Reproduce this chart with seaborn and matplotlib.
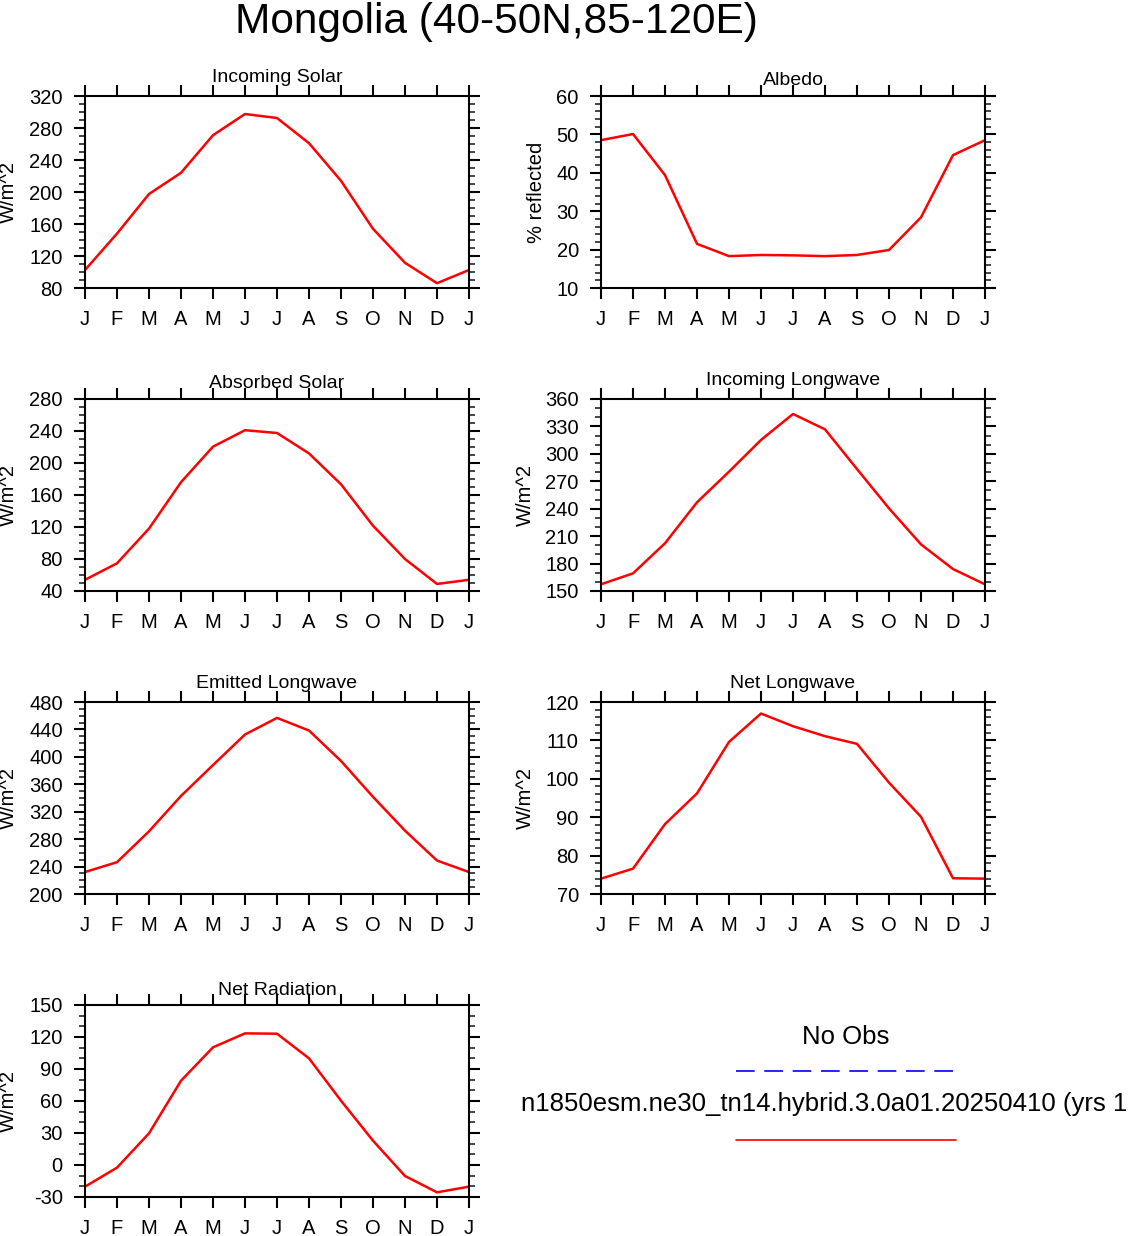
import numpy as np
import pandas as pd
import matplotlib
matplotlib.use("Agg")
import matplotlib.pyplot as plt
from matplotlib.lines import Line2D
from matplotlib.ticker import MultipleLocator
import seaborn as sns

# ---------------- data ----------------
month_labels = ["J", "F", "M", "A", "M", "J", "J", "A", "S", "O", "N", "D", "J"]

incoming_solar = [102.5, 148, 197.5, 224, 271, 297.5, 292.5, 261, 214, 154, 111.5, 86, 102.5]
albedo = [48.5, 50.1, 39.4, 21.5, 18.3, 18.6, 18.5, 18.3, 18.6, 19.9, 28.4, 44.6, 48.5]
absorbed_solar = [54, 74.6, 118, 176, 220.4, 241, 237.5, 212, 173.4, 121.6, 80, 48.8, 54]
incoming_lw = [157.3, 169.3, 202.2, 247, 280.5, 315.2, 343.6, 326.8, 283.4, 240.4, 201, 174, 157.3]
emitted_lw = [232, 246.4, 291.4, 343, 388, 432.6, 456.8, 438.4, 394, 341.7, 292.4, 248.8, 232]
net_lw = [74.0, 76.6, 88.2, 96.2, 109.6, 117.0, 113.7, 111.1, 109.1, 99.0, 90.1, 74.1, 74.0]
net_rad = [-20.3, -2.5, 29.7, 79, 110.3, 123.4, 123.1, 100, 60.3, 22.8, -10.3, -25.6, -20.3]

titles = ["Incoming Solar", "Albedo", "Absorbed Solar", "Incoming Longwave",
          "Emitted Longwave", "Net Longwave", "Net Radiation"]
ylabels = ["W/m^2", "% reflected", "W/m^2", "W/m^2", "W/m^2", "W/m^2", "W/m^2"]
series = [incoming_solar, albedo, absorbed_solar, incoming_lw, emitted_lw, net_lw, net_rad]
ylims = [(80, 320), (10, 60), (40, 280), (150, 360), (200, 480), (70, 120), (-30, 150)]
ymajor = [40, 10, 40, 30, 40, 10, 30]
yminor = [10, 2, 10, 10, 10, 2, 10]

main_title = "Mongolia (40-50N,85-120E)"
legend_obs = "No Obs"
legend_model = "n1850esm.ne30_tn14.hybrid.3.0a01.20250410 (yrs 1"

# ---------------- style ----------------
sns.set_theme(style="ticks")
plt.rcParams["font.family"] = ["Liberation Sans", "DejaVu Sans"]
plt.rcParams["axes.unicode_minus"] = False

W, H = 1134, 1236
fig = plt.figure(figsize=(W / 100, H / 100), dpi=100)
fig.patch.set_facecolor("white")

# panel placements in pixels (left, top, width, height)
col_left = [85, 601]
row_top = [96, 399, 702, 1005]
pw, ph = 384, 192
title_gap = [14, 11, 11, 14, 14, 14, 10]
ylabel_x = [-0.199, -0.169, -0.199, -0.198, -0.199, -0.198, -0.199]

x = np.arange(len(month_labels))

for i, (vals, title) in enumerate(zip(series, titles)):
    r, c = divmod(i, 2)
    left, top = col_left[c], row_top[r]
    ax = fig.add_axes([left / W, 1 - (top + ph) / H, pw / W, ph / H])
    df = pd.DataFrame({"month": x, "value": vals})
    sns.lineplot(data=df, x="month", y="value", ax=ax, color="red", linewidth=1.8)

    ax.set_xlim(0, 12)
    ax.set_ylim(*ylims[i])
    ax.set_xticks(x)
    ax.set_xticklabels(month_labels)
    ax.yaxis.set_major_locator(MultipleLocator(ymajor[i]))
    ax.yaxis.set_minor_locator(MultipleLocator(yminor[i]))
    ax.set_xlabel("")
    ax.set_ylabel(ylabels[i], fontsize=14.5, va="center", color="black")
    ax.yaxis.set_label_coords(ylabel_x[i], 0.5)

    for sp in ax.spines.values():
        sp.set_visible(True)
        sp.set_linewidth(1.5)
        sp.set_color("black")
    ax.tick_params(axis="both", which="major", direction="out", length=8, width=1.5,
                   top=True, right=True, labelsize=14.5, colors="black")
    ax.tick_params(axis="y", which="minor", direction="out", length=4.3, width=1.2,
                   left=True, right=True)
    ax.tick_params(axis="x", which="minor", bottom=False, top=False)
    ax.tick_params(axis="y", which="major", pad=8)
    ax.tick_params(axis="x", which="major", pad=7.5)
    ax.grid(False)

    ax.text(0.5, 1 + title_gap[i] / ph, title, transform=ax.transAxes,
            ha="center", va="baseline", fontsize=14, color="black")

# main title
fig.text(496 / W, 1 - 33 / H, main_title, ha="center", va="baseline",
         fontsize=30.5, color="black")

# legend area
fig.text(846 / W, 1 - 1037 / H, legend_obs, ha="center", va="center",
         fontsize=18.5, color="black")
fig.add_artist(Line2D([736 / W, 956 / W], [1 - 1071 / H, 1 - 1071 / H],
                      color="blue", linewidth=1.2, dashes=(11.2, 5.8),
                      transform=fig.transFigure))
fig.text(521 / W, 1 - 1104 / H, legend_model, ha="left", va="center",
         fontsize=18.5, color="black")
fig.add_artist(Line2D([736 / W, 956 / W], [1 - 1140 / H, 1 - 1140 / H],
                      color="red", linewidth=1.2, transform=fig.transFigure))

fig.savefig("out.png", dpi=100, facecolor="white")
